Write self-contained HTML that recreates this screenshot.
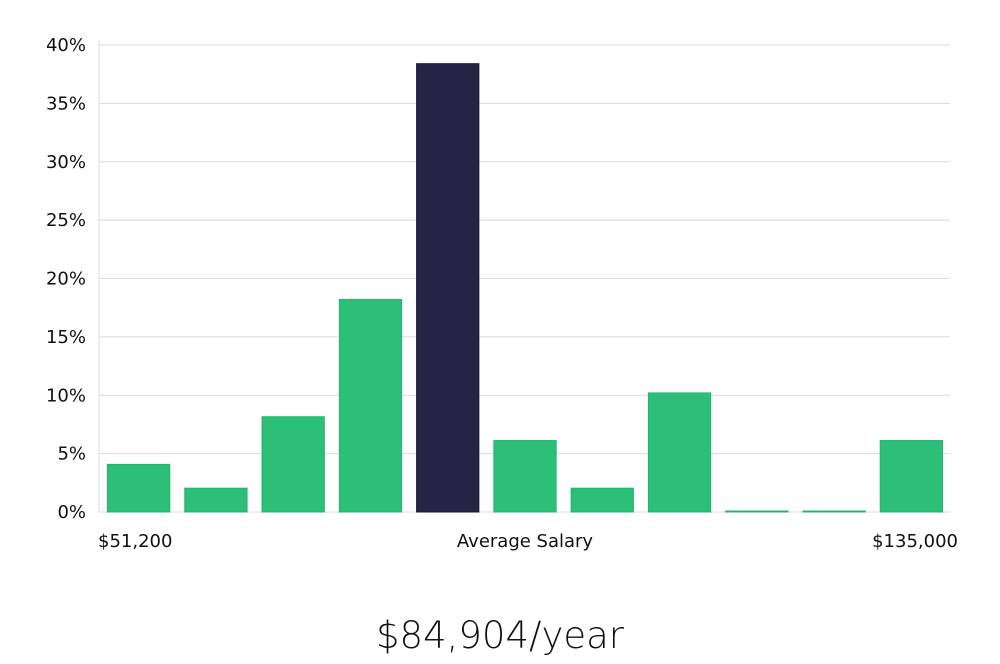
<!DOCTYPE html>
<html><head><meta charset="utf-8"><style>
body{margin:0;background:#fff;width:1000px;height:660px;overflow:hidden;font-family:"DejaVu Sans","Liberation Sans",sans-serif}
svg text{font-family:"DejaVu Sans","Liberation Sans",sans-serif}
</style></head><body>
<svg id="chart" width="1000" height="660">
<g id="grid"></g>
<g id="bars"></g>
<g id="yt"></g>
<text x="98" y="547" font-size="18" fill="#111">$51,200</text>
<text x="525" y="547" font-size="18" fill="#111" text-anchor="middle">Average Salary</text>
<text x="958" y="547" font-size="18" fill="#111" text-anchor="end">$135,000</text>
<text x="500" y="648" font-size="37" fill="#111" text-anchor="middle" font-family="Liberation Sans" font-weight="300">$84,904/year</text>
</svg>
<script>
const categories=["b1","b2","b3","b4","b5","b6","b7","b8","b9","b10","b11"];
const values=[4.08,2.04,8.16,18.2,38.4,6.12,2.04,10.2,0,0,6.12];
const highlight=[false,false,false,false,true,false,false,false,false,false,false];
const yTicks=[0,5,10,15,20,25,30,35,40];
const x0=100,x1=950,yb=512,yt=45,ymax=40;
const ns="http://www.w3.org/2000/svg";
function y(v){return yb-(v/ymax)*(yb-yt);}
const slot=(x1-x0)/categories.length;
function xs(i){return x0+i*slot;}
const grid=document.getElementById('grid'),yg=document.getElementById('yt'),bg=document.getElementById('bars');
const ax=document.createElementNS(ns,'line');
ax.setAttribute('x1',99);ax.setAttribute('x2',99);ax.setAttribute('y1',40);ax.setAttribute('y2',512);ax.setAttribute('stroke','#ddd');


grid.appendChild(ax);
yTicks.forEach(t=>{
 const l=document.createElementNS(ns,'line');
 l.setAttribute('x1',99);l.setAttribute('x2',950);l.setAttribute('y1',y(t));l.setAttribute('y2',y(t));
 l.setAttribute('stroke','#dcdcdc');l.setAttribute('stroke-width','1');
 
 
 grid.appendChild(l);
 const tx=document.createElementNS(ns,'text');
 tx.setAttribute('x',86);tx.setAttribute('y',y(t)+6);tx.setAttribute('text-anchor','end');tx.setAttribute('font-size','18');tx.setAttribute('fill','#111');
 tx.textContent=t+'%';
 
 
 yg.appendChild(tx);
});
values.forEach((v,i)=>{
 const r=document.createElementNS(ns,'rect');
 const top=Math.min(y(v),yb-1);
 r.setAttribute('x',xs(i)+7.5);r.setAttribute('width',slot-15);
 r.setAttribute('y',top);r.setAttribute('height',yb-top);
 r.setAttribute('fill',highlight[i]?'#262445':'#2bbf78');
 r.setAttribute('stroke',highlight[i]?'#1a1838':'#22b56e');r.setAttribute('stroke-width','1');
 
 
 bg.appendChild(r);
});
</script>
</body></html>
